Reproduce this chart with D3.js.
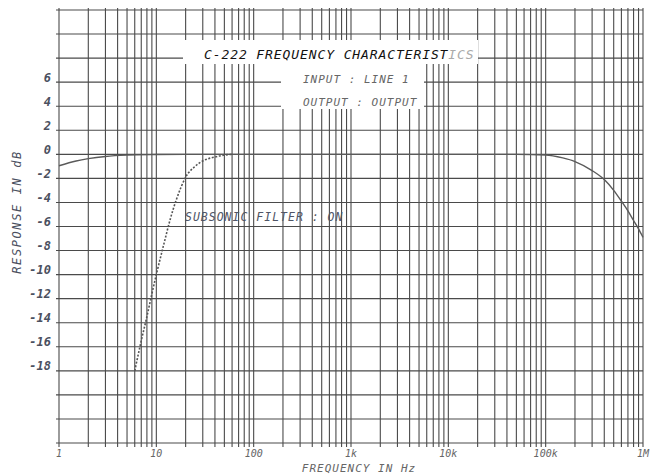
<!DOCTYPE html>
<html>
<head>
<meta charset="utf-8">
<style>
  body { margin: 0; background: #fff; }
  text { font-family: "DejaVu Sans Mono", monospace; font-style: italic; }
</style>
</head>
<body>
<svg width="655" height="476"></svg>
<script src="https://d3js.org/d3.v7.min.js"></script>
<script>

  // frequency response, solid curve (filter off)
  var mainFreq = [1, 1.5, 2, 3, 5, 10, 20, 50000, 100000, 150000, 200000, 300000, 400000, 500000, 600000, 700000, 800000, 900000, 1000000];
  var mainDb   = [-0.95, -0.55, -0.36, -0.18, -0.07, -0.02, 0, 0, -0.05, -0.3, -0.6, -1.35, -2.1, -3.0, -3.9, -4.7, -5.5, -6.2, -6.9];

  // subsonic filter on, dashed curve
  var subFreq = [6, 7, 8, 9, 10, 12, 14, 16, 18, 20, 25, 30, 40, 50, 60];
  var subDb   = [-18, -15.5, -13.5, -11.6, -10, -7.4, -5.3, -3.8, -2.7, -1.9, -1.0, -0.55, -0.22, -0.06, 0];

  var xTicks = [1, 10, 100, 1000, 10000, 100000, 1000000];
  var xLabels = ["1", "10", "100", "1k", "10k", "100k", "1M"];
  var yTicks = [6, 4, 2, 0, -2, -4, -6, -8, -10, -12, -14, -16, -18];

  var svg = d3.select("svg"),
    margin = { top: 10, right: 12, bottom: 33, left: 59 },
    W = +svg.attr("width"),
    H = +svg.attr("height");

  var x = d3.scaleLog()
    .domain([1, 1e6])
    .range([margin.left, W - margin.right]);

  var y = d3.scaleLinear()
    .domain([-24, 12])
    .range([H - margin.bottom, margin.top]);

  var grid = svg.append("g")
    .attr("stroke", "#4a4a4a")
    .attr("stroke-width", 1.1);

  grid.selectAll(".vl")
    .data(x.ticks())
    .enter().append("line")
    .attr("x1", function (d) { return x(d); })
    .attr("x2", function (d) { return x(d); })
    .attr("y1", y(12) - 2)
    .attr("y2", y(-24) + 4);

  grid.selectAll(".hl")
    .data(y.ticks(18))
    .enter().append("line")
    .attr("x1", x(1) - 3)
    .attr("x2", x(1e6))
    .attr("y1", function (d) { return y(d); })
    .attr("y2", function (d) { return y(d); });

  // white panels behind the title block
  svg.append("rect").attr("x", 183).attr("y", 40).attr("width", 295).attr("height", 24).attr("fill", "#fff");
  svg.append("rect").attr("x", 281).attr("y", 64).attr("width", 143).attr("height", 45).attr("fill", "#fff");

  var line = d3.line()
    .curve(d3.curveMonotoneX)
    .x(function (d) { return x(d[0]); })
    .y(function (d) { return y(d[1]); });

  svg.append("path")
    .datum(d3.zip(mainFreq, mainDb))
    .attr("fill", "none")
    .attr("stroke", "#5a5a5a")
    .attr("stroke-width", 1.4)
    .attr("d", line);

  svg.append("path")
    .datum(d3.zip(subFreq, subDb))
    .attr("fill", "none")
    .attr("stroke", "#555")
    .attr("stroke-width", 1.6)
    .attr("stroke-dasharray", "2,1.6")
    .attr("d", line);

  // y labels
  svg.selectAll(".yl")
    .data(yTicks)
    .enter().append("text")
    .attr("x", 51)
    .attr("y", function (d) { return y(d) - 0.5; })
    .attr("text-anchor", "end")
    .attr("font-size", 12)
    .attr("font-weight", "bold")
    .attr("fill", "#4b5060")
    .text(function (d) { return d; });

  // x labels
  svg.selectAll(".xl")
    .data(xTicks)
    .enter().append("text")
    .attr("x", function (d) { return x(d); })
    .attr("y", 457)
    .attr("text-anchor", "middle")
    .attr("font-size", 10)
    .attr("fill", "#666")
    .text(function (d, i) { return xLabels[i]; });

  svg.append("text")
    .attr("x", 359)
    .attr("y", 472)
    .attr("text-anchor", "middle")
    .attr("font-size", 11)
    .attr("letter-spacing", 1)
    .attr("fill", "#666")
    .text("FREQUENCY IN Hz");

  svg.append("text")
    .attr("transform", "translate(21,212) rotate(-90)")
    .attr("text-anchor", "middle")
    .attr("font-size", 12)
    .attr("letter-spacing", 1.6)
    .attr("fill", "#4b5060")
    .text("RESPONSE IN dB");

  var title = svg.append("text")
    .attr("x", 204)
    .attr("y", 59)
    .attr("font-size", 13)
    .attr("letter-spacing", 0.9)
    .attr("fill", "#111");
  title.append("tspan").text("C-222 FREQUENCY CHARACTERIST");
  title.append("tspan").attr("fill", "#aaa").text("ICS");

  svg.append("text")
    .attr("x", 303)
    .attr("y", 83)
    .attr("font-size", 11)
    .attr("letter-spacing", 1)
    .attr("fill", "#666")
    .text("INPUT : LINE 1");

  svg.append("text")
    .attr("x", 303)
    .attr("y", 106)
    .attr("font-size", 11)
    .attr("letter-spacing", 1)
    .attr("fill", "#666")
    .text("OUTPUT : OUTPUT");

  svg.append("text")
    .attr("x", 185)
    .attr("y", 221)
    .attr("font-size", 11.5)
    .attr("letter-spacing", 1)
    .attr("fill", "#4f5566")
    .text("SUBSONIC FILTER : ON");

</script>
</body>
</html>
